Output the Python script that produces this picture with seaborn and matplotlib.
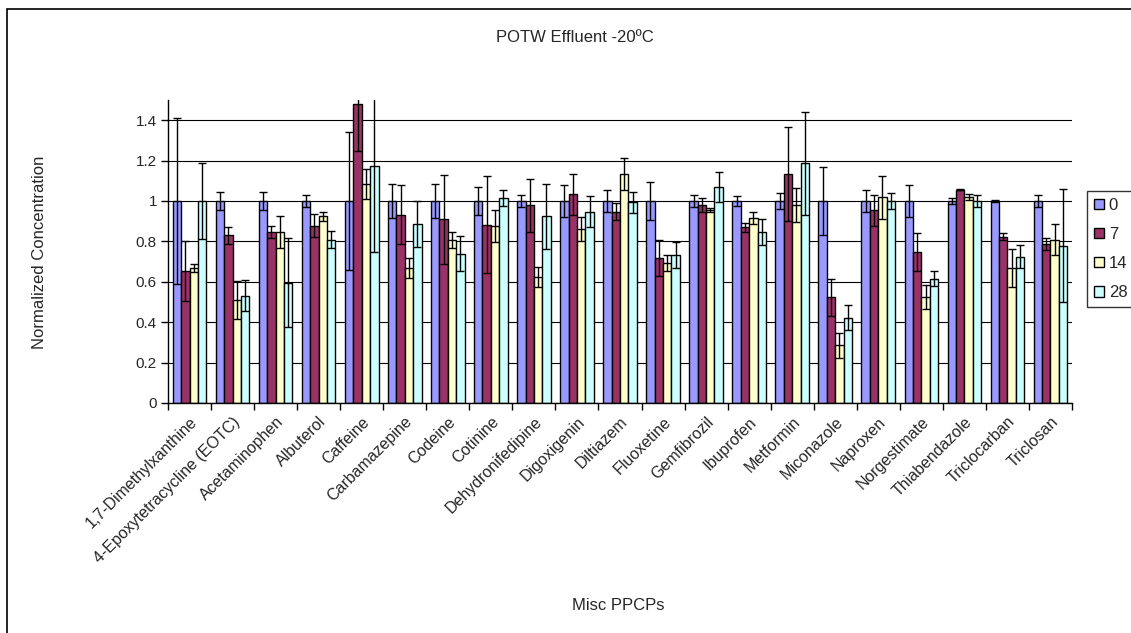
import numpy as np
import pandas as pd
import matplotlib
matplotlib.use("Agg")
import matplotlib.pyplot as plt
import matplotlib.patches as mpatches
from matplotlib.container import BarContainer
import seaborn as sns

categories = ["1,7-Dimethylxanthine", "4-Epoxytetracycline (EOTC)", "Acetaminophen",
              "Albuterol", "Caffeine", "Carbamazepine", "Codeine", "Cotinine",
              "Dehydronifedipine", "Digoxigenin", "Diltiazem", "Fluoxetine",
              "Gemfibrozil", "Ibuprofen", "Metformin", "Miconazole", "Naproxen",
              "Norgestimate", "Thiabendazole", "Triclocarban", "Triclosan"]

series_names = ["0", "7", "14", "28"]

day0 = [1.0, 1.0, 1.0, 1.0, 1.0, 1.0, 1.0, 1.0, 1.0, 1.0, 1.0,
        1.0, 1.0, 1.0, 1.0, 1.0, 1.0, 1.0, 1.0, 1.0, 1.0]
err0 = [0.41, 0.047, 0.047, 0.03, 0.34, 0.084, 0.085, 0.07, 0.031, 0.078, 0.055,
        0.093, 0.03, 0.023, 0.04, 0.17, 0.055, 0.078, 0.016, 0.004, 0.03]

day7 = [0.654, 0.83, 0.847, 0.878, 1.478, 0.932, 0.909, 0.883, 0.979, 1.033, 0.947,
        0.717, 0.979, 0.87, 1.132, 0.524, 0.954, 0.748, 1.056, 0.824, 0.787]
err7 = [0.147, 0.043, 0.031, 0.057, 0.23, 0.146, 0.222, 0.24, 0.13, 0.1, 0.043,
        0.09, 0.035, 0.023, 0.233, 0.092, 0.078, 0.094, 0.004, 0.016, 0.028]

day14 = [0.67, 0.509, 0.847, 0.924, 1.084, 0.67, 0.809, 0.878, 0.623, 0.863, 1.132,
         0.694, 0.956, 0.916, 0.979, 0.285, 1.018, 0.524, 1.018, 0.67, 0.809]
err14 = [0.02, 0.095, 0.079, 0.024, 0.072, 0.05, 0.04, 0.079, 0.048, 0.06, 0.079,
         0.04, 0.01, 0.031, 0.085, 0.064, 0.108, 0.06, 0.015, 0.094, 0.076]

day28 = [1.0, 0.532, 0.596, 0.809, 1.171, 0.886, 0.74, 1.016, 0.924, 0.947, 0.993,
         0.733, 1.071, 0.847, 1.186, 0.423, 1.0, 0.616, 1.0, 0.725, 0.779]
err28 = [0.19, 0.077, 0.22, 0.044, 0.425, 0.115, 0.085, 0.04, 0.16, 0.077, 0.054,
         0.063, 0.075, 0.063, 0.255, 0.062, 0.038, 0.035, 0.03, 0.058, 0.28]

yticks = [0, 0.2, 0.4, 0.6, 0.8, 1.0, 1.2, 1.4]
ytick_labels = ["0", "0.2", "0.4", "0.6", "0.8", "1", "1.2", "1.4"]

colors = ["#9999FF", "#993366", "#FFFFCC", "#CCFFFF"]

values = [day0, day7, day14, day28]
errors = [err0, err7, err14, err28]

rows = []
for s, vals, errs in zip(series_names, values, errors):
    for c, v, e in zip(categories, vals, errs):
        rows.append({"Compound": c, "Day": s, "Value": v, "Err": e})
df = pd.DataFrame(rows)

sns.set_theme(style="white")
plt.rcParams["font.family"] = ["Liberation Sans", "DejaVu Sans"]

W, H = 1131, 633
fig = plt.figure(figsize=(W / 100, H / 100), dpi=100)
left, right, top, bottom = 168, 1072, 100, 403
ax = fig.add_axes([left / W, 1 - bottom / H, (right - left) / W, (bottom - top) / H])

sns.barplot(data=df, x="Compound", y="Value", hue="Day", hue_order=series_names,
            order=categories, palette=colors, edgecolor="black", linewidth=1.0,
            errorbar=None, width=0.78, gap=0, legend=False, ax=ax, saturation=1)

bar_containers = [c for c in ax.containers if isinstance(c, BarContainer)]
for i, cont in enumerate(bar_containers):
    xs = [p.get_x() + p.get_width() / 2 for p in cont.patches]
    ys = [p.get_height() for p in cont.patches]
    ax.errorbar(xs, ys, yerr=errors[i], fmt="none", ecolor="black",
                elinewidth=1.0, capsize=3, capthick=1.0, zorder=5)

ax.set_ylim(0, 1.5)
ax.set_xlim(-0.5, len(categories) - 0.5)
ax.set_yticks(yticks)
ax.set_yticklabels(ytick_labels, fontsize=11)
ax.yaxis.grid(True, color="black", linewidth=0.8)
ax.set_axisbelow(True)
ax.xaxis.grid(False)

ax.set_xticks(range(len(categories)))
ax.set_xticklabels(categories, rotation=45, ha="right", rotation_mode="anchor",
                   fontsize=11.5)
ax.set_xticks(np.arange(-0.5, len(categories), 1.0), minor=True)
ax.tick_params(axis="x", which="major", length=0, pad=8)
ax.tick_params(axis="x", which="minor", length=5, width=1, color="black",
               direction="out", bottom=True)
ax.tick_params(axis="y", which="major", length=5, width=1, color="black",
               direction="out", left=True, pad=3)

for side in ["top", "right"]:
    ax.spines[side].set_visible(False)
for side in ["left", "bottom"]:
    ax.spines[side].set_color("black")
    ax.spines[side].set_linewidth(1.0)

ax.set_xlabel("")
ax.set_ylabel("")
fig.text(40 / W, 1 - 252 / H, "Normalized Concentration", rotation=90,
         ha="center", va="center", fontsize=12)
fig.text(618 / W, 1 - 605 / H, "Misc PPCPs", ha="center", va="center", fontsize=12)
fig.text(575 / W, 1 - 38 / H, "POTW Effluent -20ºC", ha="center", va="center",
         fontsize=12)

handles = [mpatches.Patch(facecolor=c, edgecolor="black", linewidth=1.0, label=s)
           for c, s in zip(colors, series_names)]
leg = fig.legend(handles=handles, loc="upper left",
                 bbox_to_anchor=(1087 / W, 1 - 191 / H), borderaxespad=0,
                 fontsize=12, frameon=True, fancybox=False, handlelength=0.6,
                 handleheight=0.6, handletextpad=0.3, labelspacing=0.85,
                 borderpad=0.4)
leg.get_frame().set_edgecolor("black")
leg.get_frame().set_linewidth(1.0)

border = mpatches.Rectangle((7 / W, -0.1), 1.2, 1.1 - 9 / H, transform=fig.transFigure,
                            fill=False, edgecolor="black", linewidth=1.2,
                            clip_on=False)
fig.add_artist(border)

fig.savefig("out.png", dpi=100)
